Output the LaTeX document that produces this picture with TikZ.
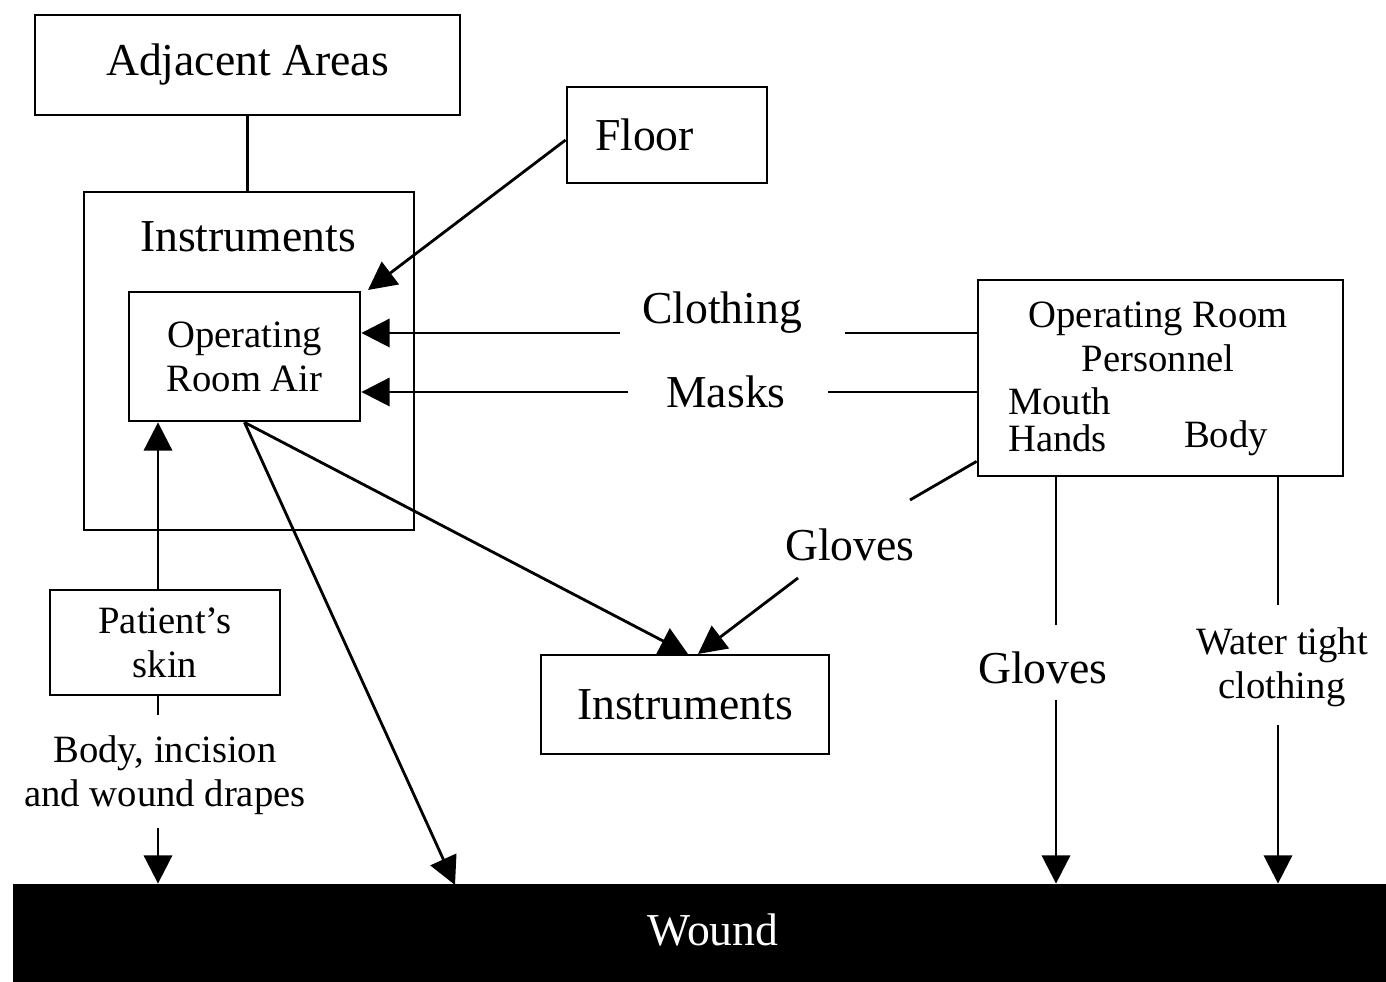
\documentclass[tikz,border=0pt]{standalone}
\usepackage{fontspec}
\setmainfont{Liberation Serif}
\usetikzlibrary{arrows.meta,calc}

\begin{document}
\begin{tikzpicture}[line width=0.8pt,
  box/.style={draw, inner sep=0pt},
  big/.style={font=\fontsize{13}{15}\selectfont},
  small/.style={font=\fontsize{11}{12.5}\selectfont, align=center},
  tri/.style={-{Triangle[length=8pt,width=8pt]}}]
\useasboundingbox (0,0) rectangle (13.86,9.82);
%Boxes
  \node[box, big, minimum width=4.25cm, minimum height=1cm] (adj) at (2.475,9.17) {Adjacent Areas};
  \node[box, big, minimum width=2cm, minimum height=0.96cm, text width=1.44cm, align=left, inner xsep=0.28cm] (floor) at (6.67,8.47) {Floor};
  \node[box, minimum width=3.3cm, minimum height=3.38cm] (outer) at (2.49,6.21) {};
  \node[big] (instr) at (2.48,7.45) {Instruments};
  \node[box, small, minimum width=2.31cm, minimum height=1.29cm] (ora) at (2.445,6.255) {Operating\\Room Air};
  \node[box, minimum width=3.65cm, minimum height=1.96cm] (orp) at (11.605,6.04) {};
  \node[small] (orptitle) at (11.58,6.45) {Operating Room\\Personnel};
  \node[small, align=left, anchor=west, font=\fontsize{11}{10.5}\selectfont] (mouth) at (9.95,5.62) {Mouth\\Hands};
  \node[small] (body) at (12.26,5.44) {Body};
  \node[box, small, minimum width=2.3cm, minimum height=1.05cm] (skin) at (1.65,3.395) {Patient's\\skin};
  \node[box, big, minimum width=2.88cm, minimum height=0.99cm] (instr2) at (6.85,2.775) {Instruments};
  \node[box, fill=black, text=white, big, minimum width=13.72cm, minimum height=0.97cm] (wound) at (7.0,0.485) {};
  \node[big, text=white] (woundtxt) at (7.13,0.52) {Wound};
%Labels
  \node[big] (clothing) at (7.22,6.69) {Clothing};
  \node[big] (masks) at (7.26,5.9) {Masks};
  \node[big] (gloves1) at (8.5,4.37) {Gloves};
  \node[big] (gloves2) at (10.43,3.14) {Gloves};
  \node[small] (water) at (12.82,3.15) {Water tight\\clothing};
  \node[small] (drapes) at (1.65,2.07) {Body, incision\\and wound drapes};
%Free ends
  \coordinate (floortip) at (3.68,6.92);
  \coordinate (clL) at (6.2,6.49);
  \coordinate (clR) at (8.45,6.49);
  \coordinate (maL) at (6.28,5.9);
  \coordinate (maR) at (8.28,5.9);
  \coordinate (glA) at (9.1,4.82);
  \coordinate (glB) at (7.98,4.04);
  \coordinate (tipA) at (6.88,3.28);
  \coordinate (tipB) at (6.98,3.28);
  \coordinate (skinx) at (1.58,0);
  \coordinate (glovex) at (10.56,0);
  \coordinate (waterx) at (12.78,0);
%Connectors
  \draw (adj.south) -- (adj.south |- outer.north);
  \draw[tri] ([yshift=-0.05cm]floor.west) -- (floortip);
  \draw[tri] (clL) -- (ora.east |- clL);
  \draw (clR) -- (orp.west |- clR);
  \draw[tri] (maL) -- (ora.east |- maL);
  \draw (maR) -- (orp.west |- maR);
  \draw ([yshift=0.16cm]orp.south west) -- (glA);
  \draw[tri] (glB) -- (tipB);
  \draw[tri] (ora.south) -- (tipA);
  \draw[tri] (ora.south) -- (4.55,0.97);
  \draw[tri] (skinx |- skin.north) -- (skinx |- ora.south);
  \draw (skinx |- skin.south) -- (1.58,2.67);
  \draw[tri] (1.58,1.54) -- (skinx |- wound.north);
  \draw (glovex |- orp.south) -- (10.56,3.57);
  \draw[tri] (10.56,2.82) -- (glovex |- wound.north);
  \draw (waterx |- orp.south) -- (12.78,3.77);
  \draw[tri] (12.78,2.57) -- (waterx |- wound.north);
\end{tikzpicture}
\end{document}
